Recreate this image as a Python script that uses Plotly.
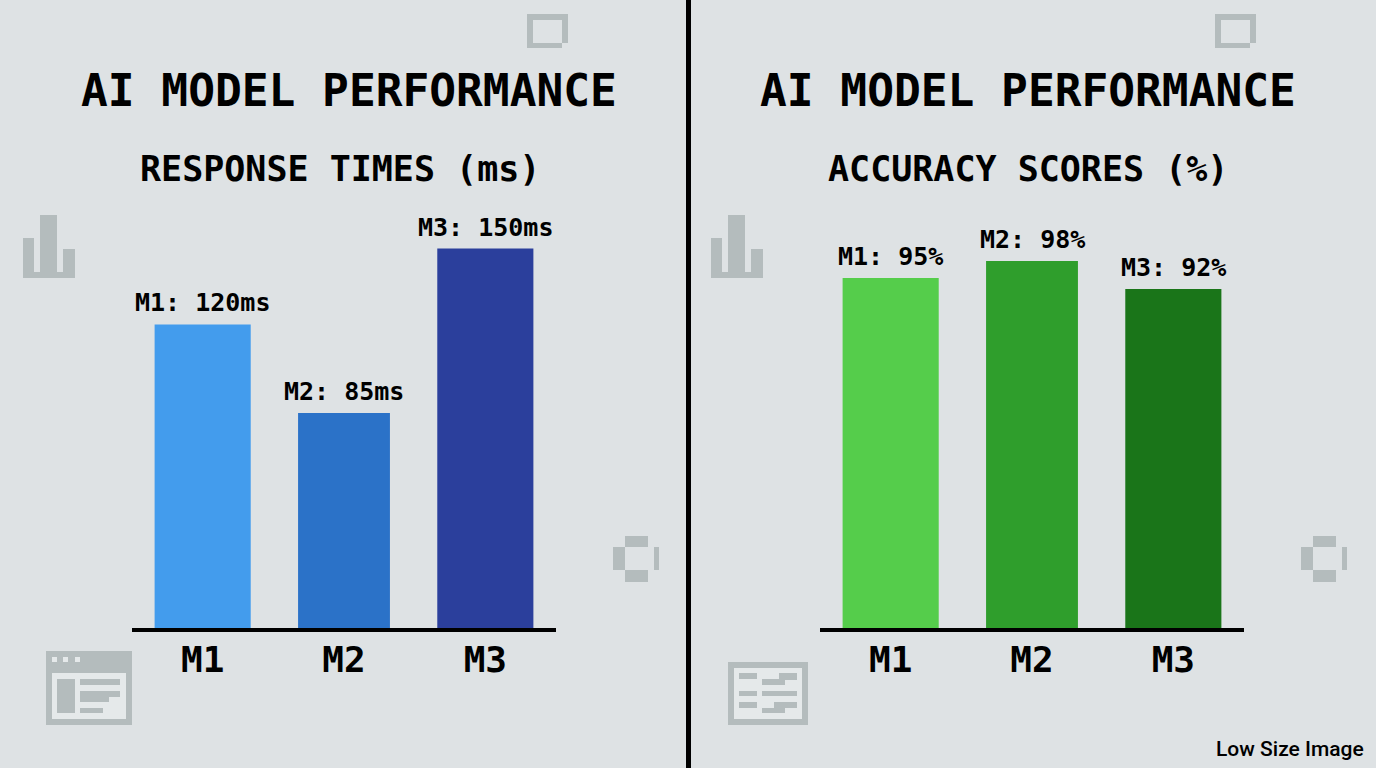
import plotly.graph_objects as go
from plotly.subplots import make_subplots

W = 1376
H = 768

models = ["M1", "M2", "M3"]
response_ms = [120, 85, 150]
response_labels = ["M1: 120ms", "M2: 85ms", "M3: 150ms"]
response_colors = ["#439ced", "#2b72c8", "#2b3f9c"]
response_widths = [0.68, 0.65, 0.68]

# bar heights as drawn in the picture, the M2 bar stands a bit taller than its 98% label
accuracy_pct = [95, 99.6, 92]
accuracy_labels = ["M1: 95%", "M2: 98%", "M3: 92%"]
accuracy_colors = ["#55cd4b", "#2f9e2c", "#1a7519"]
accuracy_widths = [0.68, 0.65, 0.68]

BG = "#dee2e4"
ICON = "#b4bcbd"
INNER = "#e5e9ea"
LABEL_FONT = "DejaVu Sans Mono"


def px_rect(x0, y0, x1, y1, color=ICON):
    return dict(type="rect", xref="paper", yref="paper", layer="below",
                x0=x0 / W, x1=x1 / W, y0=1 - y0 / H, y1=1 - y1 / H,
                fillcolor=color, line_width=0)


def bar_icon(dx):
    return [px_rect(dx + a, b, dx + c, d) for a, b, c, d in
            [(23, 238, 34, 278), (40, 215, 57, 278), (63, 249, 75, 278), (23, 272, 75, 278)]]


def square_icon(dx):
    return [px_rect(dx + a, b, dx + c, d) for a, b, c, d in
            [(527, 14, 568, 20), (527, 14, 533, 48), (562, 14, 568, 43), (527, 43, 562, 48)]]


def ring_icon(dx):
    return [px_rect(dx + a, b, dx + c, d) for a, b, c, d in
            [(625, 536, 648, 547), (613, 547, 625, 570), (654, 547, 659, 570), (625, 570, 648, 582)]]


window_icon = [px_rect(46, 651, 132, 725), px_rect(52, 673, 126, 719, INNER)]
window_icon += [px_rect(a, 657, a + 5, 662, INNER) for a in (52, 63, 75)]
window_icon += [px_rect(*r) for r in
                [(57, 679, 75, 713), (80, 679, 120, 685), (80, 691, 120, 697),
                 (80, 697, 109, 702), (80, 708, 103, 713)]]

list_icon = [px_rect(728, 662, 808, 725), px_rect(734, 668, 802, 719, INNER)]
list_icon += [px_rect(*r) for r in
              [(739, 673, 757, 679), (779, 673, 797, 680), (762, 679, 785, 685),
               (739, 691, 757, 696), (762, 691, 797, 696), (739, 702, 757, 708),
               (774, 702, 797, 708), (762, 708, 785, 713)]]

divider = dict(type="line", xref="paper", yref="paper", x0=688.5 / W, x1=688.5 / W, y0=0, y1=1,
               line=dict(color="black", width=5))

fig = make_subplots(rows=1, cols=2)

fig.add_trace(go.Bar(x=models, y=response_ms, width=response_widths,
                     marker_color=response_colors, marker_line_width=0), row=1, col=1)
fig.add_trace(go.Bar(x=models, y=accuracy_pct, width=accuracy_widths,
                     marker_color=accuracy_colors, marker_line_width=0), row=1, col=2)

fig.update_xaxes(showline=True, linecolor="black", linewidth=4, ticks="", showgrid=False,
                 zeroline=False, range=[-0.5, 2.5], ticklabelstandoff=-3,
                 tickfont=dict(family=LABEL_FONT, size=36, color="black", weight=700))
fig.update_yaxes(visible=False, showgrid=False, zeroline=False)

fig.update_layout(
    width=W, height=H, margin=dict(l=0, r=0, t=0, b=0), autosize=False,
    paper_bgcolor=BG, plot_bgcolor="rgba(0,0,0,0)", showlegend=False,
    xaxis=dict(domain=[132 / W, 556 / W]),
    xaxis2=dict(domain=[820 / W, 1244 / W]),
    yaxis=dict(domain=[1 - 628 / H, 1 - 198 / H], range=[0, 430 / 2.53]),
    yaxis2=dict(domain=[1 - 628 / H, 1 - 198 / H], range=[0, 430 / 3.684]),
    shapes=bar_icon(0) + bar_icon(688) + square_icon(0) + square_icon(688)
    + ring_icon(0) + ring_icon(688) + window_icon + list_icon + [divider],
)

# value labels sit a little higher over the bars than the outside bar text would
for axis, values, labels in [("", response_ms, response_labels), ("2", accuracy_pct, accuracy_labels)]:
    for model, value, label in zip(models, values, labels):
        fig.add_annotation(text=label, x=model, y=value, xref="x" + axis, yref="y" + axis,
                           xanchor="center", yanchor="bottom", yshift=5, showarrow=False,
                           font=dict(family=LABEL_FONT, size=25, color="black", weight=700))


def add_text(text, x, y, size, family=LABEL_FONT, weight=700, xanchor="center"):
    fig.add_annotation(text=text, xref="paper", yref="paper", x=x / W, y=1 - y / H,
                       xanchor=xanchor, yanchor="middle", showarrow=False,
                       font=dict(family=family, size=size, color="black", weight=weight))


add_text("AI MODEL PERFORMANCE", 349, 90, 44.5)
add_text("AI MODEL PERFORMANCE", 1028, 90, 44.5)
add_text("RESPONSE TIMES (ms)", 340, 169, 35)
add_text("ACCURACY SCORES (%)", 1028, 169, 35)
add_text("Low Size Image", 1366, 749, 21, family="Roboto", weight=500, xanchor="right")

# the page body has a default margin that would push the fixed size figure off the corner
fig.write_html("out.html", config={"displayModeBar": False},
               post_script="document.body.style.margin='0';document.body.style.overflow='hidden';")
